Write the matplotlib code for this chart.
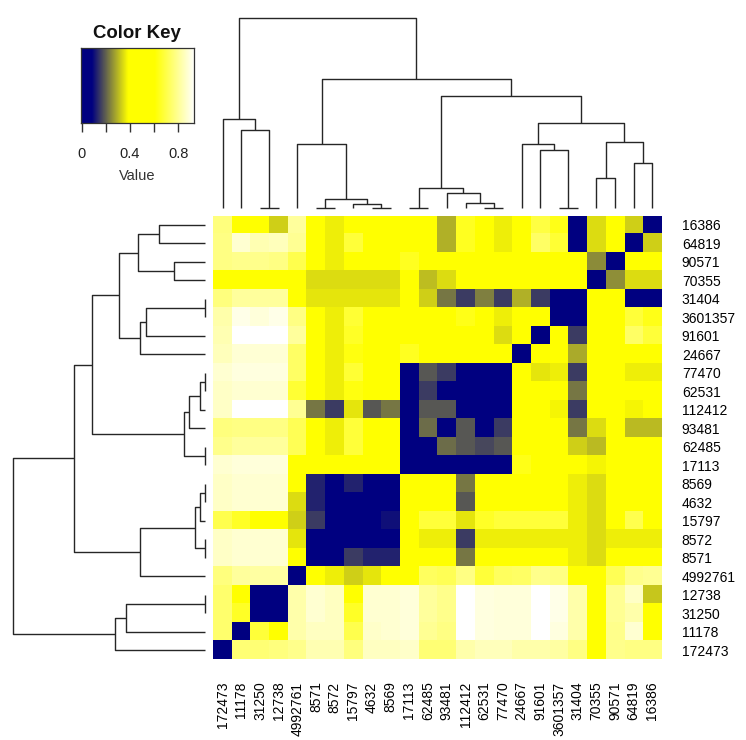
import numpy as np
import matplotlib
matplotlib.use("Agg")
import matplotlib.pyplot as plt
from matplotlib.colors import LinearSegmentedColormap

plt.rcParams['font.family'] = ['Liberation Sans', 'DejaVu Sans']

# ---------------- data ----------------
col_labels = ['172473', '11178', '31250', '12738', '4992761', '8571', '8572', '15797',
              '4632', '8569', '17113', '62485', '93481', '112412', '62531', '77470',
              '24667', '91601', '3601357', '31404', '70355', '90571', '64819', '16386']
row_labels = ['16386', '64819', '90571', '70355', '31404', '3601357', '91601', '24667',
              '77470', '62531', '112412', '93481', '62485', '17113', '8569', '4632',
              '15797', '8572', '8571', '4992761', '12738', '31250', '11178', '172473']

# rows: row_labels (top -> bottom), columns: col_labels (left -> right)
values = [
    [0.76, 0.47, 0.47, 0.325, 0.80, 0.47, 0.36, 0.47, 0.47, 0.47, 0.47, 0.47, 0.29, 0.64, 0.47, 0.36, 0.47, 0.685, 0.63, 0.02, 0.34, 0.47, 0.325, 0.00],
    [0.77, 0.87, 0.83, 0.84, 0.79, 0.47, 0.36, 0.675, 0.47, 0.47, 0.47, 0.47, 0.29, 0.64, 0.47, 0.36, 0.47, 0.73, 0.665, 0.02, 0.34, 0.47, 0.00, 0.325],
    [0.77, 0.78, 0.78, 0.77, 0.70, 0.47, 0.36, 0.47, 0.47, 0.47, 0.64, 0.47, 0.47, 0.47, 0.47, 0.47, 0.47, 0.47, 0.47, 0.47, 0.245, 0.00, 0.47, 0.47],
    [0.47, 0.47, 0.47, 0.47, 0.47, 0.34, 0.34, 0.34, 0.34, 0.34, 0.47, 0.305, 0.34, 0.47, 0.47, 0.47, 0.47, 0.47, 0.47, 0.47, 0.00, 0.25, 0.34, 0.34],
    [0.76, 0.80, 0.80, 0.80, 0.47, 0.35, 0.35, 0.35, 0.35, 0.35, 0.47, 0.325, 0.22, 0.15, 0.23, 0.15, 0.29, 0.15, 0.02, 0.00, 0.47, 0.47, 0.02, 0.02],
    [0.82, 0.90, 0.88, 0.90, 0.77, 0.47, 0.36, 0.665, 0.47, 0.47, 0.47, 0.47, 0.47, 0.63, 0.47, 0.36, 0.47, 0.47, 0.00, 0.02, 0.47, 0.47, 0.675, 0.63],
    [0.83, 0.93, 0.93, 0.93, 0.80, 0.47, 0.36, 0.65, 0.47, 0.47, 0.47, 0.47, 0.47, 0.47, 0.47, 0.34, 0.47, 0.00, 0.47, 0.15, 0.47, 0.47, 0.73, 0.675],
    [0.84, 0.875, 0.875, 0.875, 0.73, 0.47, 0.36, 0.62, 0.47, 0.47, 0.64, 0.47, 0.47, 0.47, 0.47, 0.47, 0.00, 0.47, 0.47, 0.28, 0.47, 0.47, 0.47, 0.47],
    [0.87, 0.89, 0.89, 0.89, 0.73, 0.47, 0.36, 0.665, 0.47, 0.47, 0.02, 0.185, 0.15, 0.02, 0.02, 0.00, 0.47, 0.35, 0.36, 0.15, 0.47, 0.47, 0.36, 0.36],
    [0.855, 0.87, 0.87, 0.87, 0.665, 0.47, 0.36, 0.62, 0.47, 0.47, 0.02, 0.15, 0.02, 0.02, 0.00, 0.02, 0.47, 0.47, 0.47, 0.22, 0.47, 0.47, 0.47, 0.47],
    [0.855, 0.93, 0.93, 0.93, 0.79, 0.22, 0.15, 0.35, 0.185, 0.22, 0.02, 0.185, 0.185, 0.00, 0.02, 0.02, 0.47, 0.47, 0.37, 0.15, 0.47, 0.47, 0.37, 0.47],
    [0.76, 0.77, 0.77, 0.77, 0.71, 0.47, 0.36, 0.675, 0.47, 0.47, 0.02, 0.21, 0.00, 0.185, 0.02, 0.15, 0.47, 0.47, 0.47, 0.22, 0.34, 0.47, 0.30, 0.30],
    [0.78, 0.80, 0.80, 0.80, 0.71, 0.47, 0.36, 0.675, 0.47, 0.47, 0.02, 0.00, 0.21, 0.185, 0.165, 0.185, 0.47, 0.47, 0.47, 0.325, 0.30, 0.47, 0.47, 0.47],
    [0.87, 0.88, 0.88, 0.88, 0.47, 0.47, 0.47, 0.47, 0.47, 0.47, 0.00, 0.02, 0.02, 0.02, 0.02, 0.02, 0.63, 0.47, 0.47, 0.47, 0.37, 0.47, 0.47, 0.47],
    [0.855, 0.87, 0.87, 0.87, 0.47, 0.12, 0.02, 0.12, 0.02, 0.00, 0.47, 0.47, 0.47, 0.22, 0.47, 0.47, 0.47, 0.47, 0.47, 0.36, 0.34, 0.47, 0.47, 0.47],
    [0.855, 0.87, 0.87, 0.87, 0.34, 0.12, 0.02, 0.02, 0.00, 0.02, 0.47, 0.47, 0.47, 0.185, 0.47, 0.47, 0.47, 0.47, 0.47, 0.36, 0.34, 0.47, 0.47, 0.47],
    [0.70, 0.65, 0.47, 0.47, 0.325, 0.15, 0.02, 0.00, 0.02, 0.10, 0.47, 0.675, 0.675, 0.35, 0.65, 0.675, 0.675, 0.675, 0.675, 0.36, 0.34, 0.47, 0.70, 0.47],
    [0.855, 0.87, 0.87, 0.87, 0.35, 0.02, 0.00, 0.02, 0.02, 0.02, 0.47, 0.36, 0.36, 0.15, 0.36, 0.36, 0.36, 0.36, 0.36, 0.36, 0.34, 0.36, 0.36, 0.36],
    [0.855, 0.87, 0.87, 0.87, 0.47, 0.00, 0.02, 0.15, 0.12, 0.12, 0.47, 0.47, 0.47, 0.22, 0.47, 0.47, 0.47, 0.47, 0.47, 0.36, 0.34, 0.47, 0.47, 0.47],
    [0.76, 0.80, 0.81, 0.81, 0.00, 0.47, 0.36, 0.325, 0.35, 0.47, 0.47, 0.72, 0.71, 0.77, 0.675, 0.72, 0.73, 0.78, 0.77, 0.47, 0.47, 0.71, 0.78, 0.79],
    [0.74, 0.47, 0.02, 0.00, 0.82, 0.87, 0.85, 0.47, 0.87, 0.87, 0.88, 0.80, 0.78, 0.93, 0.89, 0.88, 0.88, 0.93, 0.90, 0.82, 0.47, 0.79, 0.855, 0.315],
    [0.74, 0.65, 0.00, 0.02, 0.82, 0.87, 0.85, 0.65, 0.87, 0.87, 0.88, 0.80, 0.78, 0.93, 0.89, 0.88, 0.88, 0.93, 0.90, 0.82, 0.47, 0.79, 0.82, 0.47],
    [0.74, 0.00, 0.675, 0.47, 0.82, 0.85, 0.85, 0.70, 0.86, 0.87, 0.88, 0.79, 0.77, 0.93, 0.89, 0.88, 0.88, 0.93, 0.89, 0.82, 0.47, 0.78, 0.87, 0.47],
    [0.00, 0.75, 0.75, 0.76, 0.78, 0.83, 0.83, 0.76, 0.85, 0.85, 0.86, 0.75, 0.75, 0.82, 0.84, 0.84, 0.82, 0.82, 0.81, 0.77, 0.47, 0.78, 0.77, 0.77],
]

# dendrogram: (merge height, left, right); leaves are labels
tree = (1.0,
        (0.468, '172473', (0.41, '11178', (0.0, '31250', '12738'))),
        (0.681,
         (0.341, '4992761', (0.05, (0.0, '8571', '8572'), (0.025, '15797', (0.0, '4632', '8569')))),
         (0.59,
          (0.108, (0.0, '17113', '62485'), (0.082, '93481', (0.028, '112412', (0.0, '62531', '77470')))),
          (0.451,
           (0.341, '24667', (0.308, '91601', (0.0, '3601357', '31404'))),
           (0.349, (0.16, '70355', '90571'), (0.239, '64819', '16386'))))))

key_ticks = [0, 0.2, 0.4, 0.6, 0.8]
key_ticklabels = ['0', '', '0.4', '', '0.8']
key_range = (0.0, 0.93)

# ---------------- style ----------------
W, H = 746, 740
cmap = LinearSegmentedColormap.from_list(
    'navy_yellow_white',
    [(0.0, '#000080'), (0.08 / 0.93, '#000080'), (0.38 / 0.93, '#ffff00'),
     (0.60 / 0.93, '#ffff00'), (1.0, '#ffffff')])
line_col = '#262626'


def fig_rect(x0, y0, x1, y1):
    return [x0 / W, 1 - y1 / H, (x1 - x0) / W, (y1 - y0) / H]


fig = plt.figure(figsize=(W / 100, H / 100), dpi=100)

# heatmap
ax = fig.add_axes(fig_rect(213.3, 215.7, 661.7, 659.3))
ax.imshow(np.array(values), cmap=cmap, vmin=key_range[0], vmax=key_range[1],
          aspect='auto', interpolation='nearest')
for s in ax.spines.values():
    s.set_visible(False)
ax.set_xticks(range(len(col_labels)))
ax.set_xticklabels(col_labels, rotation=90, fontsize=10)
ax.set_yticks(range(len(row_labels)))
ax.set_yticklabels(row_labels, fontsize=10)
ax.yaxis.tick_right()
ax.tick_params(axis='x', length=0, pad=16)
ax.tick_params(axis='y', length=0, pad=14.5)


def draw_tree(node, pos, axd, orient):
    if isinstance(node, str):
        return pos[node], 0.0
    h, left, right = node
    x1, h1 = draw_tree(left, pos, axd, orient)
    x2, h2 = draw_tree(right, pos, axd, orient)
    xs = [x1, x1, x2, x2]
    hs = [h1, h, h, h2]
    if orient == 'top':
        axd.plot(xs, hs, color=line_col, lw=1.0, clip_on=False, solid_capstyle='butt')
    else:
        axd.plot(hs, xs, color=line_col, lw=1.0, clip_on=False, solid_capstyle='butt')
    return (x1 + x2) / 2, h


# column dendrogram
axc = fig.add_axes(fig_rect(213.3, 18.3, 661.7, 208.3))
draw_tree(tree, {l: i for i, l in enumerate(col_labels)}, axc, 'top')
axc.set_xlim(-0.5, len(col_labels) - 0.5)
axc.set_ylim(0, 1.0)
axc.axis('off')

# row dendrogram
axr = fig.add_axes(fig_rect(13.3, 215.7, 205.0, 659.3))
draw_tree(tree, {l: i for i, l in enumerate(row_labels)}, axr, 'left')
axr.set_ylim(len(row_labels) - 0.5, -0.5)
axr.set_xlim(1.0, 0)
axr.axis('off')

# color key
axk = fig.add_axes(fig_rect(80.7, 47.7, 194.0, 122.7))
grad = np.linspace(key_range[0], key_range[1], 400)[None, :]
axk.imshow(grad, cmap=cmap, vmin=key_range[0], vmax=key_range[1], aspect='auto',
           extent=(key_range[0], key_range[1], 0, 1), interpolation='bilinear')
axk.set_xlim(-0.008, key_range[1])
axk.set_ylim(0, 1)
axk.set_yticks([])
axk.set_xticks(key_ticks)
axk.set_xticklabels(key_ticklabels, fontsize=10.5, color='#222222')
axk.tick_params(axis='x', length=6.5, width=1.0, color='#333333', pad=11)
for s in axk.spines.values():
    s.set_color('#333333')
    s.set_linewidth(0.9)
fig.text(137.3 / W, 1 - 38.3 / H, 'Color Key', ha='center', va='baseline',
         fontsize=13.4, fontweight='bold', color='#111111')
fig.text(136.7 / W, 1 - 180.5 / H, 'Value', ha='center', va='baseline',
         fontsize=10.5, color='#333333')

fig.savefig('out.png', dpi=100)
